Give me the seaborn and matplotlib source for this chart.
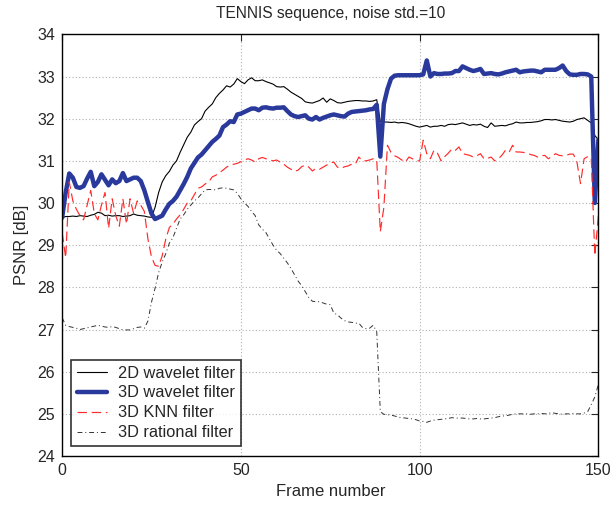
import numpy as np
import pandas as pd
import matplotlib
matplotlib.use("Agg")
import matplotlib.pyplot as plt
import seaborn as sns

# PSNR per frame (dB) for each denoising method, frames 0..150
wavelet_2d = [
    29.65, 29.68, 29.68, 29.69, 29.68, 29.70, 29.69, 29.68, 29.71, 29.73,
    29.78, 29.76, 29.70, 29.71, 29.69, 29.70, 29.70, 29.68, 29.69, 29.70,
    29.74, 29.71, 29.70, 29.69, 29.67, 29.66, 29.90, 30.25, 30.50, 30.65,
    30.75, 30.90, 31.00, 31.20, 31.38, 31.56, 31.68, 31.85, 31.93, 32.00,
    32.18, 32.27, 32.35, 32.50, 32.60, 32.68, 32.78, 32.75, 32.82, 32.95,
    32.88, 32.83, 32.92, 32.97, 32.90, 32.90, 32.92, 32.88, 32.85, 32.82,
    32.76, 32.75, 32.76, 32.70, 32.63, 32.58, 32.53, 32.48, 32.40, 32.38,
    32.37, 32.40, 32.43, 32.49, 32.39, 32.47, 32.43, 32.38, 32.37, 32.39,
    32.41, 32.42, 32.43, 32.43, 32.42, 32.42, 32.41, 32.42, 32.45, 31.93,
    31.92, 31.92, 31.91, 31.92, 31.90, 31.91, 31.90, 31.88, 31.85, 31.82,
    31.80, 31.82, 31.84, 31.80, 31.82, 31.82, 31.84, 31.82, 31.86, 31.87,
    31.86, 31.88, 31.90, 31.87, 31.84, 31.86, 31.85, 31.87, 31.82, 31.79,
    31.90, 31.82, 31.83, 31.84, 31.83, 31.86, 31.88, 31.92, 31.90, 31.90,
    31.91, 31.91, 31.92, 31.93, 31.95, 31.98, 31.98, 31.97, 31.98, 31.96,
    31.94, 31.93, 31.92, 31.94, 31.98, 32.00, 32.02, 31.96, 31.90, 31.60,
    31.50,
]

wavelet_3d = [
    29.65, 30.25, 30.70, 30.60, 30.38, 30.36, 30.40, 30.58, 30.74, 30.40,
    30.50, 30.68, 30.55, 30.42, 30.56, 30.47, 30.52, 30.71, 30.52, 30.56,
    30.60, 30.60, 30.52, 30.30, 30.02, 29.75, 29.62, 29.66, 29.70, 29.85,
    29.98, 30.05, 30.15, 30.30, 30.45, 30.62, 30.82, 30.95, 31.08, 31.15,
    31.25, 31.35, 31.45, 31.52, 31.60, 31.80, 31.86, 31.94, 31.92, 32.10,
    32.12, 32.16, 32.20, 32.24, 32.24, 32.20, 32.26, 32.27, 32.25, 32.24,
    32.26, 32.26, 32.27, 32.18, 32.10, 32.06, 32.04, 32.06, 32.08, 32.00,
    31.98, 32.04, 31.98, 32.02, 32.05, 32.08, 32.10, 32.08, 32.06, 32.05,
    32.12, 32.16, 32.17, 32.18, 32.19, 32.20, 32.22, 32.23, 32.33, 31.10,
    32.35, 32.70, 32.95, 33.02, 33.03, 33.03, 33.03, 33.03, 33.03, 33.03,
    33.03, 33.05, 33.38, 33.00, 33.08, 33.06, 33.06, 33.07, 33.07, 33.08,
    33.13, 33.13, 33.24, 33.20, 33.16, 33.13, 33.15, 33.18, 33.06, 33.07,
    33.08, 33.06, 33.05, 33.07, 33.10, 33.12, 33.14, 33.16, 33.10, 33.12,
    33.13, 33.14, 33.14, 33.12, 33.10, 33.16, 33.16, 33.16, 33.16, 33.20,
    33.26, 33.13, 33.05, 33.04, 33.04, 33.06, 33.06, 33.05, 33.00, 30.00,
    31.50,
]

knn_3d = [
    29.30, 28.70, 30.50, 30.05, 29.85, 29.70, 29.60, 29.95, 30.30, 29.75,
    29.60, 29.95, 30.25, 29.40, 30.10, 29.70, 29.45, 30.10, 29.50, 30.10,
    29.75, 30.05, 29.95, 29.80, 29.15, 28.72, 28.52, 28.50, 28.75, 29.15,
    29.42, 29.50, 29.62, 29.72, 29.85, 30.00, 30.05, 30.20, 30.35, 30.38,
    30.45, 30.50, 30.62, 30.66, 30.72, 30.78, 30.85, 30.90, 30.92, 30.94,
    30.98, 31.02, 31.05, 31.02, 30.97, 31.05, 31.08, 31.05, 31.02, 31.00,
    31.02, 30.97, 30.92, 30.85, 30.80, 30.75, 30.78, 30.86, 30.90, 30.85,
    30.76, 30.82, 30.80, 30.85, 30.90, 30.95, 30.97, 30.85, 30.82, 30.86,
    30.88, 30.92, 30.92, 31.09, 31.00, 31.00, 31.02, 31.05, 31.02, 29.32,
    29.90, 31.37, 31.20, 31.12, 31.08, 31.02, 30.97, 31.09, 31.05, 31.00,
    31.00, 31.49, 31.17, 31.05, 31.25, 31.18, 31.00, 31.10, 31.18, 31.28,
    31.25, 31.33, 31.17, 31.15, 31.13, 31.09, 31.12, 31.17, 31.05, 31.06,
    31.09, 31.00, 31.05, 31.13, 31.25, 31.20, 31.37, 31.21, 31.21, 31.20,
    31.19, 31.15, 31.13, 31.09, 31.12, 31.13, 31.05, 31.10, 31.17, 31.13,
    31.12, 31.13, 31.16, 31.16, 30.97, 30.46, 31.05, 31.10, 31.08, 28.75,
    29.70,
]

rational_3d = [
    27.28, 27.10, 27.07, 27.05, 27.03, 27.00, 27.02, 27.04, 27.06, 27.08,
    27.10, 27.08, 27.06, 27.05, 27.07, 27.05, 27.02, 26.99, 26.99, 26.99,
    27.02, 27.05, 27.06, 27.03, 27.20, 27.65, 27.98, 28.35, 28.60, 28.80,
    29.05, 29.18, 29.40, 29.62, 29.72, 29.85, 29.95, 30.05, 30.12, 30.22,
    30.31, 30.32, 30.32, 30.31, 30.35, 30.36, 30.35, 30.33, 30.31, 30.23,
    30.10, 30.00, 29.92, 29.80, 29.70, 29.48, 29.38, 29.30, 29.15, 29.00,
    28.88, 28.80, 28.69, 28.58, 28.45, 28.30, 28.15, 28.04, 27.90, 27.76,
    27.67, 27.66, 27.66, 27.63, 27.60, 27.59, 27.39, 27.35, 27.27, 27.21,
    27.18, 27.17, 27.15, 27.15, 27.05, 27.02, 27.03, 27.10, 26.95, 25.05,
    24.99, 24.98, 24.97, 24.95, 24.92, 24.91, 24.90, 24.89, 24.88, 24.86,
    24.83, 24.82, 24.80, 24.83, 24.85, 24.86, 24.87, 24.88, 24.89, 24.91,
    24.90, 24.90, 24.90, 24.89, 24.88, 24.88, 24.89, 24.88, 24.88, 24.89,
    24.90, 24.91, 24.93, 24.95, 24.95, 24.97, 24.99, 25.00, 25.00, 25.00,
    25.00, 24.99, 25.00, 25.00, 25.01, 25.00, 25.01, 25.03, 25.01, 25.00,
    24.99, 25.00, 25.00, 25.01, 25.00, 25.00, 25.02, 25.05, 25.22, 25.40,
    25.70,
]

series_names = ["2D wavelet filter", "3D wavelet filter",
                "3D KNN filter", "3D rational filter"]
x_ticks = [0, 50, 100, 150]
y_ticks = [24, 25, 26, 27, 28, 29, 30, 31, 32, 33, 34]

sns.set_style("white")
plt.rcParams["font.family"] = ["Liberation Sans", "DejaVu Sans"]
plt.rcParams["font.size"] = 11.5

fig = plt.figure(figsize=(6.15, 5.05), dpi=100)
ax = fig.add_axes([0.101, 0.097, 0.872, 0.835])

styles = [
    dict(color="black", linewidth=0.8, linestyle="-"),
    dict(color="#2a3a9c", linewidth=3.2, linestyle="-"),
    dict(color="#ff2a2a", linewidth=0.85, linestyle=(0, (8, 4))),
    dict(color="#333333", linewidth=0.7, linestyle=(0, (5, 3, 1, 3))),
]
all_series = [wavelet_2d, wavelet_3d, knn_3d, rational_3d]

for name, vals, st in zip(series_names, all_series, styles):
    df = pd.DataFrame({"Frame": np.arange(len(vals)), "PSNR": vals})
    sns.lineplot(data=df, x="Frame", y="PSNR", ax=ax, label=name, **st)

ax.set_xlim(0, 150)
ax.set_ylim(24, 34)
ax.set_xticks(x_ticks)
ax.set_yticks(y_ticks)
ax.grid(True, color="#b0b0b0", linestyle=(0, (1, 2)), linewidth=0.8)
ax.tick_params(direction="in", top=True, right=True, length=5,
               width=0.8, labelsize=11.5, pad=5)
for sp in ax.spines.values():
    sp.set_linewidth(1.0)
    sp.set_color("black")

ax.set_xlabel("Frame number", fontsize=12, labelpad=4)
ax.set_ylabel("PSNR [dB]", fontsize=12, labelpad=6)
ax.set_title("TENNIS sequence, noise std.=10", fontsize=11.2, pad=12)

leg = ax.legend(loc="lower left", bbox_to_anchor=(0.008, 0.012),
                frameon=True, fancybox=False, fontsize=11.8,
                handlelength=1.8, borderpad=0.35, labelspacing=0.3,
                handletextpad=0.7, borderaxespad=0.3)
leg.get_frame().set_edgecolor("black")
leg.get_frame().set_linewidth(1.2)

fig.savefig("out.png", dpi=100)
